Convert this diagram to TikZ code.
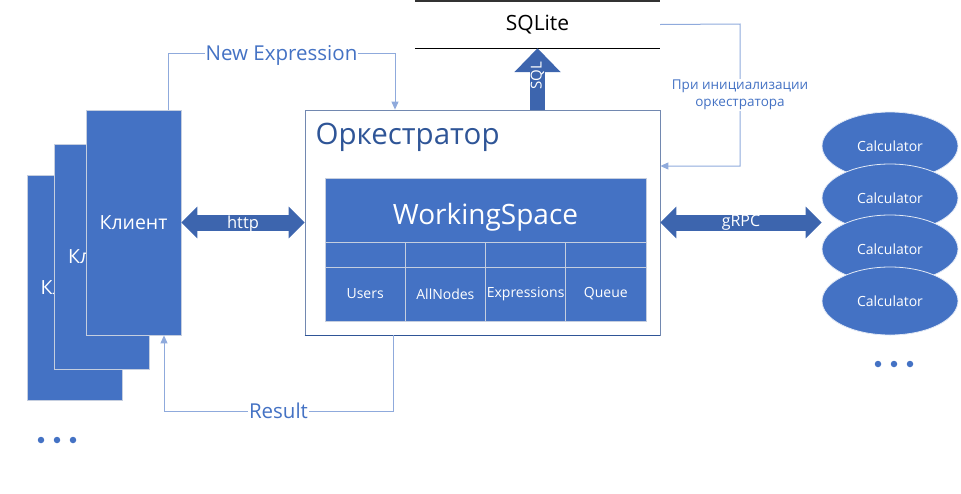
\documentclass[tikz,border=0pt]{standalone}
\usepackage{fontspec}
\setmainfont{Open Sans}
\usetikzlibrary{arrows.meta,shapes.geometric}
\definecolor{office}{HTML}{4472C4}
\definecolor{arrowblue}{HTML}{3D65AE}
\definecolor{connblue}{HTML}{8FAADC}
\definecolor{titleblue}{HTML}{2F5597}
\definecolor{cellline}{HTML}{C5CEDF}
\newcommand{\fs}[1]{\fontsize{#1}{#1}\selectfont}
\tikzset{
  box/.style={draw=cellline,fill=office,text=white,inner sep=0pt,line width=0.8pt},
  client/.style={box,minimum width=95pt,minimum height=225pt,font=\fs{19.5}},
  cell/.style={box,minimum width=80.25pt,font=\fs{14}},
  calc/.style={ellipse,draw=white!85!office,fill=office,text=white,inner sep=0pt,
    minimum width=136pt,minimum height=68pt,line width=0.8pt,font=\fs{14}},
  conn/.style={draw=connblue,line width=1pt,-{Triangle[length=8pt,width=7pt]}},
  lbl/.style={fill=white,text=office,inner sep=1pt},
  fatline/.style={draw=arrowblue,fill=arrowblue,line width=16pt},
  fatarrow/.style={fatline,
    {Triangle[length=16pt,width=31pt]}-{Triangle[length=16pt,width=31pt]}},
  dot/.style={circle,fill=office,inner sep=0pt,minimum size=6.5pt},
}
\begin{document}
\begin{tikzpicture}[x=1pt,y=-1pt]
  \useasboundingbox (0,0) rectangle (961,493);
  % clients
  \node[client] (client3) at (74.5,287.5) {Клиент};
  \node[client] (client2) at (102,257) {Клиент};
  \node[client] (client1) at (133.5,222.5) {Клиент};
  \foreach \i/\x in {1/41,2/57,3/73}
    \node[dot] (ldot\i) at (\x,440) {};
  % orchestrator
  \node[draw=connblue!80!black,line width=0.8pt,minimum width=355pt,minimum height=225pt,inner sep=0pt] (orch) at (482.5,222.5) {};
  \draw[titleblue,line width=1pt] (orch.south west) -- (orch.south east);
  \node[anchor=west,text=titleblue,font=\fs{29.5}] (orchtitle) at (312,137) {Оркестратор};
  \node[box,minimum width=321pt,minimum height=64pt] (ws) at (485.5,210) {};
  \node[text=white,font=\fs{28}] (wstext) at (485.5,217) {WorkingSpace};
  \foreach \i/\name in {0/Users,1/AllNodes,2/Expressions,3/Queue} {
    \node[cell,minimum height=25pt] (top\i) at (365.125+\i*80.25,254.5) {};
    \node[cell,minimum height=54pt] (col\i) at (365.125+\i*80.25,294) {\name};
  }
  % database
  \node[minimum width=245pt,minimum height=47pt,inner sep=0pt,font=\fs{21}] (sqlite) at (537.5,24.5) {SQLite};
  \draw[black!80,line width=1.5pt] (sqlite.north west) -- (sqlite.north east);
  \draw[line width=1pt] (sqlite.south west) -- (sqlite.south east);
  % calculators
  \node[calc] (calc1) at (890,146) {Calculator};
  \node[calc] (calc2) at (890,198) {Calculator};
  \node[calc] (calc3) at (890,249) {Calculator};
  \node[calc] (calc4) at (890,301) {Calculator};
  \foreach \i/\x in {1/878,2/894,3/910}
    \node[dot] (rdot\i) at (\x,364) {};
  % big arrows
  \draw[fatarrow] (client1.east) -- node[text=white,font=\fs{16.5},yshift=-2pt] {http} (orch.west);
  \draw[fatarrow] (orch.east) -- node[text=white,font=\fs{16}] {gRPC} (calc2.west |- orch.east);
  \draw[fatline,line width=15pt,-{Triangle[length=24pt,width=45pt]}]
    (sqlite.south |- orch.north) -- node[pos=0.55,rotate=90,text=white,font=\fs{15}] {SQL} (sqlite.south);
  % connectors
  \draw[conn] (client1.north -| 168,0) -- (168,53) -- node[lbl,font=\fs{20.5},yshift=-2pt] {New Expression} (395,53) -- (orch.north -| 395,0);
  \draw[conn] (orch.south -| 393,0) -- (393,411) -- node[lbl,font=\fs{20.5}] {Result} (164,411) -- (client1.south -| 164,0);
  \draw[conn] (sqlite.east) -- (740,24) -- node[lbl,align=center,font=\fs{13.5},pos=0.5] {При инициализации\\[4pt]оркестратора} (740,166) -- (orch.east |- 0,166);
\end{tikzpicture}
\end{document}
